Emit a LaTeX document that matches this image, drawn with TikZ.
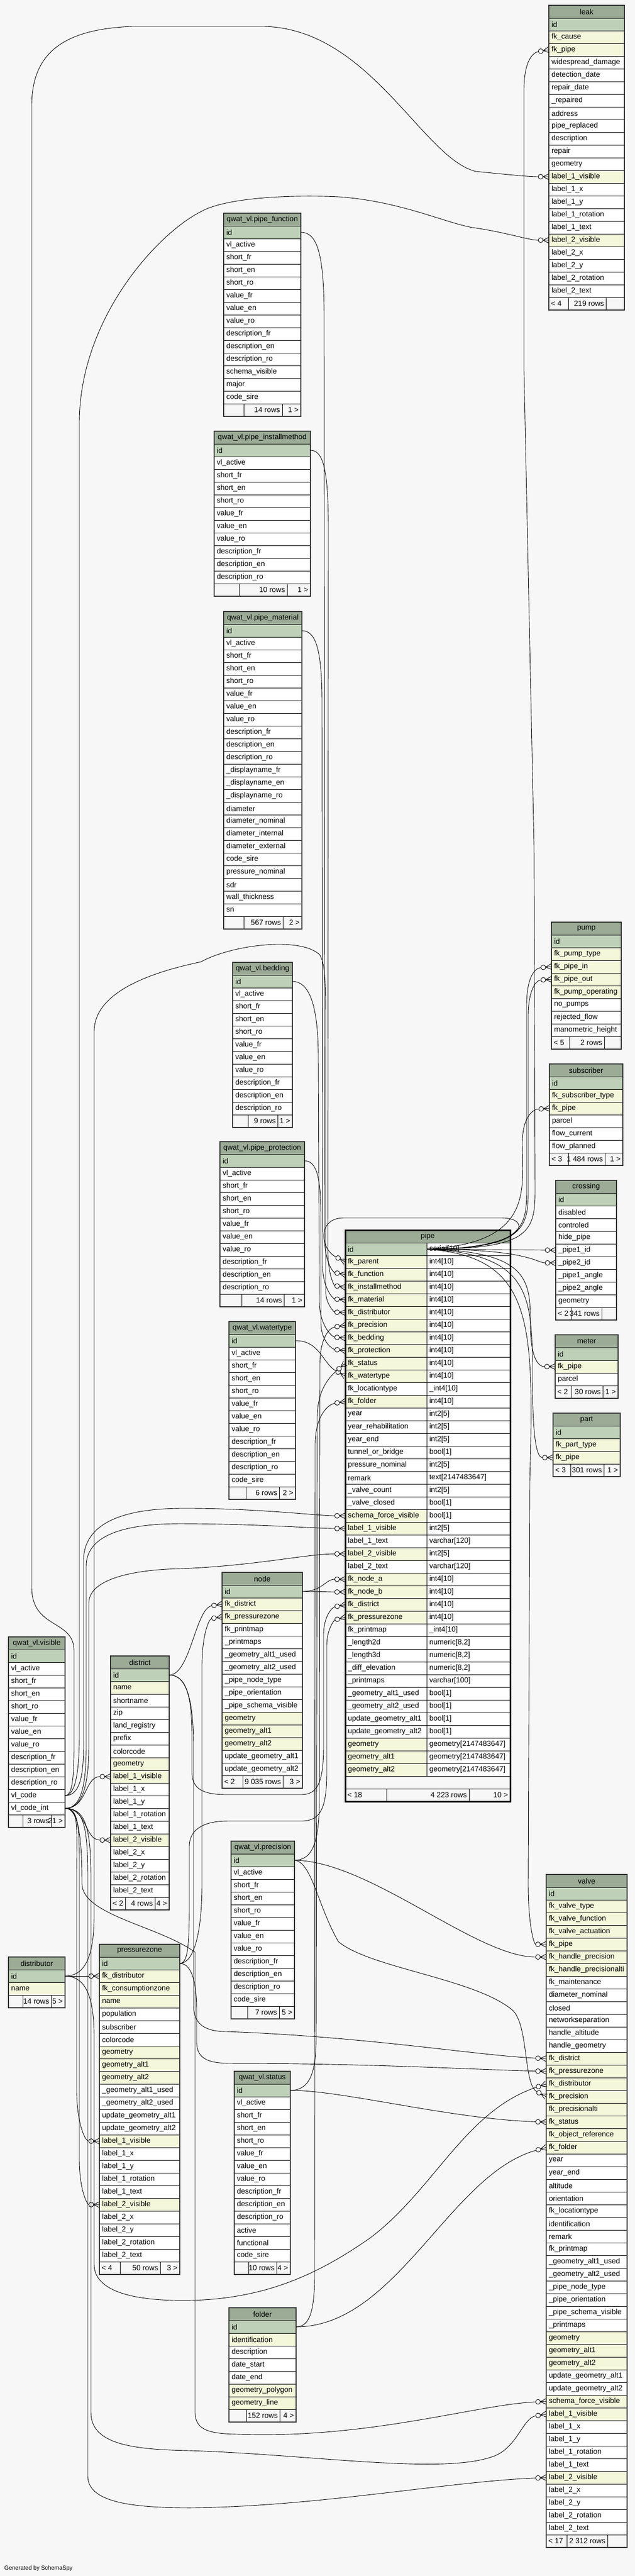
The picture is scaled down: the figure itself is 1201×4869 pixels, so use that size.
\documentclass[tikz,border=0pt]{standalone}
\usepackage{fontspec}
\setmainfont{Liberation Sans}
\usetikzlibrary{arrows.meta}
\definecolor{headc}{HTML}{9BAB96}
\definecolor{pk}{HTML}{BED1B8}
\definecolor{ix}{HTML}{F4F7DA}
\colorlet{cl}{white}
\definecolor{footc}{HTML}{F7F7F7}
\definecolor{bgc}{HTML}{F7F7F7}

% zero-or-many end of a relation
\pgfdeclarearrow{
  name = crowodot,
  setup code = {
    \pgfarrowssettipend{0pt}
    \pgfarrowssetlineend{-20pt}
    \pgfarrowssetvisualbackend{-20pt}
    \pgfarrowssetbackend{-20pt}
    \pgfarrowshullpoint{0pt}{6pt}
    \pgfarrowshullpoint{0pt}{-6pt}
    \pgfarrowshullpoint{-20pt}{5pt}
    \pgfarrowshullpoint{-20pt}{-5pt}
  },
  drawing code = {
    \pgfsetdash{}{0pt}
    \pgfpathmoveto{\pgfqpoint{-11pt}{0pt}}\pgfpathlineto{\pgfqpoint{0pt}{5.5pt}}
    \pgfpathmoveto{\pgfqpoint{-11pt}{0pt}}\pgfpathlineto{\pgfqpoint{0pt}{0pt}}
    \pgfpathmoveto{\pgfqpoint{-11pt}{0pt}}\pgfpathlineto{\pgfqpoint{0pt}{-5.5pt}}
    \pgfusepathqstroke
    \pgfpathcircle{\pgfqpoint{-15.5pt}{0pt}}{4.5pt}
    \pgfsetfillcolor{white}
    \pgfusepathqfillstroke
  },
}

\tikzset{
  cell/.style = {draw=black, line width=0.8pt, minimum height=24pt, inner xsep=5pt, inner ysep=0pt,
    outer sep=0pt, anchor=north west, align=left, font=\fontsize{14}{16}\selectfont},
  thead/.style = {cell, fill=headc},
  tfoot/.style = {cell, fill=footc},
  ftext/.style = {inner xsep=4pt, inner ysep=0pt, font=\fontsize{14}{16}\selectfont},
  tborder/.style = {draw=black!80, line width=1.6pt},
  rel/.style = {draw=black, line width=0.9pt, -{crowodot}},
}

% name, title, x, y, width, rows, footer left/middle/right
\newcommand\dbtable[9]{%
  \pgfmathsetmacro\tw{#5-10}%
  \node[thead, minimum width=#5pt] (#1) at (#3,#4) {#2};
  \foreach \k/\c [count=\i] in {#6}{%
    \node[cell, fill=\k, text width=\tw pt] (#1-\c) at (#3,{#4+24*\i}) {\expandafter\detokenize\expandafter{\c}};
    \xdef\dbn{\i}}
  \pgfmathsetmacro\fy{#4+24*(\dbn+1)}%
  \pgfmathsetmacro\fa{0.26*#5}\pgfmathsetmacro\fc{0.24*#5}\pgfmathsetmacro\fb{#5-\fa-\fc}%
  \node[tfoot, minimum width=\fa pt] (#1-fl) at (#3,\fy) {};
  \node[tfoot, minimum width=\fb pt] (#1-fm) at (#1-fl.north east) {};
  \node[tfoot, minimum width=\fc pt] (#1-fr) at (#1-fm.north east) {};
  \node[ftext, anchor=west] (#1-flt) at (#1-fl.west) {#7};
  \node[ftext, anchor=east] (#1-fmt) at (#1-fm.east) {#8};
  \node[ftext, anchor=east] (#1-frt) at (#1-fr.east) {#9};
  \draw[tborder] (#1.north west) rectangle (#1-fr.south east);
}

\begin{document}
\begin{tikzpicture}[x=1pt, y=-1pt]
\fill[bgc] (0,0) rectangle (1201,4869);
\useasboundingbox (0,0) rectangle (1201,4869);

\dbtable{leak}{leak}{1038}{10}{143}{pk/id, ix/fk_cause, ix/fk_pipe, cl/widespread_damage, cl/detection_date, cl/repair_date, cl/_repaired, cl/address, cl/pipe_replaced, cl/description, cl/repair, cl/geometry, ix/label_1_visible, cl/label_1_x, cl/label_1_y, cl/label_1_rotation, cl/label_1_text, ix/label_2_visible, cl/label_2_x, cl/label_2_y, cl/label_2_rotation, cl/label_2_text}{< 4}{219 rows}{}
\dbtable{pfunction}{qwat\_vl.pipe\_function}{423}{403}{146}{pk/id, cl/vl_active, cl/short_fr, cl/short_en, cl/short_ro, cl/value_fr, cl/value_en, cl/value_ro, cl/description_fr, cl/description_en, cl/description_ro, cl/schema_visible, cl/major, cl/code_sire}{}{14 rows}{1 >}
\dbtable{pinstall}{qwat\_vl.pipe\_installmethod}{405}{815}{182}{pk/id, cl/vl_active, cl/short_fr, cl/short_en, cl/short_ro, cl/value_fr, cl/value_en, cl/value_ro, cl/description_fr, cl/description_en, cl/description_ro}{}{10 rows}{1 >}
\dbtable{pmaterial}{qwat\_vl.pipe\_material}{423}{1156}{148}{pk/id, cl/vl_active, cl/short_fr, cl/short_en, cl/short_ro, cl/value_fr, cl/value_en, cl/value_ro, cl/description_fr, cl/description_en, cl/description_ro, cl/_displayname_fr, cl/_displayname_en, cl/_displayname_ro, cl/diameter, cl/diameter_nominal, cl/diameter_internal, cl/diameter_external, cl/code_sire, cl/pressure_nominal, cl/sdr, cl/wall_thickness, cl/sn}{}{567 rows}{2 >}
\dbtable{bedding}{qwat\_vl.bedding}{440}{1819}{113}{pk/id, cl/vl_active, cl/short_fr, cl/short_en, cl/short_ro, cl/value_fr, cl/value_en, cl/value_ro, cl/description_fr, cl/description_en, cl/description_ro}{}{9 rows}{1 >}
\dbtable{protection}{qwat\_vl.pipe\_protection}{416}{2158}{160}{pk/id, cl/vl_active, cl/short_fr, cl/short_en, cl/short_ro, cl/value_fr, cl/value_en, cl/value_ro, cl/description_fr, cl/description_en, cl/description_ro}{}{14 rows}{1 >}
\dbtable{watertype}{qwat\_vl.watertype}{433}{2498}{126}{pk/id, cl/vl_active, cl/short_fr, cl/short_en, cl/short_ro, cl/value_fr, cl/value_en, cl/value_ro, cl/description_fr, cl/description_en, cl/description_ro, cl/code_sire}{}{6 rows}{2 >}
\dbtable{pump}{pump}{1043}{1743}{132}{pk/id, ix/fk_pump_type, ix/fk_pipe_in, ix/fk_pipe_out, ix/fk_pump_operating, cl/no_pumps, cl/rejected_flow, cl/manometric_height}{< 5}{2 rows}{}
\dbtable{subscriber}{subscriber}{1039}{2011}{139}{pk/id, ix/fk_subscriber_type, ix/fk_pipe, cl/parcel, cl/flow_current, cl/flow_planned}{< 3}{1 484 rows}{1 >}
\dbtable{crossing}{crossing}{1051}{2231}{115}{pk/id, cl/disabled, cl/controled, cl/hide_pipe, cl/_pipe1_id, cl/_pipe2_id, cl/_pipe1_angle, cl/_pipe2_angle, cl/geometry}{< 2}{341 rows}{}
\dbtable{meter}{meter}{1050}{2523}{119}{pk/id, ix/fk_pipe, cl/parcel}{< 2}{30 rows}{1 >}
\dbtable{part}{part}{1046}{2671}{127}{pk/id, ix/fk_part_type, ix/fk_pipe}{< 3}{301 rows}{1 >}
\dbtable{nodet}{node}{420}{2972}{152}{pk/id, ix/fk_district, ix/fk_pressurezone, cl/fk_printmap, cl/_printmaps, cl/_geometry_alt1_used, cl/_geometry_alt2_used, cl/_pipe_node_type, cl/_pipe_orientation, cl/_pipe_schema_visible, ix/geometry, ix/geometry_alt1, ix/geometry_alt2, cl/update_geometry_alt1, cl/update_geometry_alt2}{< 2}{9 035 rows}{3 >}
\dbtable{visible}{qwat\_vl.visible}{16}{3094}{107}{pk/id, cl/vl_active, cl/short_fr, cl/short_en, cl/short_ro, cl/value_fr, cl/value_en, cl/value_ro, cl/description_fr, cl/description_en, cl/description_ro, cl/vl_code, cl/vl_code_int}{}{3 rows}{21 >}
\dbtable{district}{district}{209}{3130}{111}{pk/id, ix/name, cl/shortname, cl/zip, cl/land_registry, cl/prefix, cl/colorcode, ix/geometry, ix/label_1_visible, cl/label_1_x, cl/label_1_y, cl/label_1_rotation, cl/label_1_text, ix/label_2_visible, cl/label_2_x, cl/label_2_y, cl/label_2_rotation, cl/label_2_text}{< 2}{4 rows}{4 >}
\dbtable{distributor}{distributor}{16}{3699}{107}{pk/id, ix/name}{}{14 rows}{5 >}
\dbtable{pzone}{pressurezone}{188}{3675}{152}{pk/id, ix/fk_distributor, ix/fk_consumptionzone, ix/name, cl/population, cl/subscriber, cl/colorcode, ix/geometry, ix/geometry_alt1, ix/geometry_alt2, cl/_geometry_alt1_used, cl/_geometry_alt2_used, cl/update_geometry_alt1, cl/update_geometry_alt2, ix/label_1_visible, cl/label_1_x, cl/label_1_y, cl/label_1_rotation, cl/label_1_text, ix/label_2_visible, cl/label_2_x, cl/label_2_y, cl/label_2_rotation, cl/label_2_text}{< 4}{50 rows}{3 >}
\dbtable{precision}{qwat\_vl.precision}{437}{3480}{120}{pk/id, cl/vl_active, cl/short_fr, cl/short_en, cl/short_ro, cl/value_fr, cl/value_en, cl/value_ro, cl/description_fr, cl/description_en, cl/description_ro, cl/code_sire}{}{7 rows}{5 >}
\dbtable{status}{qwat\_vl.status}{443}{3915}{106}{pk/id, cl/vl_active, cl/short_fr, cl/short_en, cl/short_ro, cl/value_fr, cl/value_en, cl/value_ro, cl/description_fr, cl/description_en, cl/description_ro, cl/active, cl/functional, cl/code_sire}{}{10 rows}{4 >}
\dbtable{folder}{folder}{433}{4362}{127}{pk/id, ix/identification, cl/description, cl/date_start, cl/date_end, ix/geometry_polygon, ix/geometry_line}{}{152 rows}{4 >}
\dbtable{valve}{valve}{1033}{3543}{153}{pk/id, ix/fk_valve_type, ix/fk_valve_function, ix/fk_valve_actuation, ix/fk_pipe, ix/fk_handle_precision, ix/fk_handle_precisionalti, cl/fk_maintenance, cl/diameter_nominal, cl/closed, cl/networkseparation, cl/handle_altitude, cl/handle_geometry, ix/fk_district, ix/fk_pressurezone, ix/fk_distributor, ix/fk_precision, ix/fk_precisionalti, ix/fk_status, ix/fk_object_reference, ix/fk_folder, cl/year, cl/year_end, cl/altitude, cl/orientation, cl/fk_locationtype, cl/identification, cl/remark, cl/fk_printmap, cl/_geometry_alt1_used, cl/_geometry_alt2_used, cl/_pipe_node_type, cl/_pipe_orientation, cl/_pipe_schema_visible, cl/_printmaps, ix/geometry, ix/geometry_alt1, ix/geometry_alt2, cl/update_geometry_alt1, cl/update_geometry_alt2, ix/schema_force_visible, ix/label_1_visible, cl/label_1_x, cl/label_1_y, cl/label_1_rotation, cl/label_1_text, ix/label_2_visible, cl/label_2_x, cl/label_2_y, cl/label_2_rotation, cl/label_2_text}{< 17}{2 312 rows}{}

% pipe, two columns
\node[thead, minimum width=312pt] (pipe) at (653,2325) {pipe};
\foreach \k/\c/\ty [count=\i] in {pk/id/serial[10], ix/fk_parent/int4[10], ix/fk_function/int4[10], ix/fk_installmethod/int4[10], ix/fk_material/int4[10], ix/fk_distributor/int4[10], ix/fk_precision/int4[10], ix/fk_bedding/int4[10], ix/fk_protection/int4[10], ix/fk_status/int4[10], ix/fk_watertype/int4[10], cl/fk_locationtype/_int4[10], ix/fk_folder/int4[10], cl/year/int2[5], cl/year_rehabilitation/int2[5], cl/year_end/int2[5], cl/tunnel_or_bridge/bool[1], cl/pressure_nominal/int2[5], cl/remark/text[2147483647], cl/_valve_count/int2[5], cl/_valve_closed/bool[1], ix/schema_force_visible/bool[1], ix/label_1_visible/int2[5], cl/label_1_text/varchar[120], ix/label_2_visible/int2[5], cl/label_2_text/varchar[120], ix/fk_node_a/int4[10], ix/fk_node_b/int4[10], ix/fk_district/int4[10], ix/fk_pressurezone/int4[10], cl/fk_printmap/_int4[10], cl/_length2d/{numeric[8,2]}, cl/_length3d/{numeric[8,2]}, cl/_diff_elevation/{numeric[8,2]}, cl/_printmaps/varchar[100], cl/_geometry_alt1_used/bool[1], cl/_geometry_alt2_used/bool[1], cl/update_geometry_alt1/bool[1], cl/update_geometry_alt2/bool[1], ix/geometry/geometry[2147483647], ix/geometry_alt1/geometry[2147483647], ix/geometry_alt2/geometry[2147483647]}{%
  \node[cell, fill=\k, text width=144pt] (pipe-\c) at (653,{2325+24*\i}) {\expandafter\detokenize\expandafter{\c}};
  \node[cell, fill=white, text width=148pt] (pipe-\c-t) at (pipe-\c.north east) {\expandafter\detokenize\expandafter{\ty}};
}
\node[tfoot, minimum width=78pt] (pipe-fl) at (653,3381) {};
\node[tfoot, minimum width=156pt] (pipe-fm) at (pipe-fl.north east) {};
\node[tfoot, minimum width=78pt] (pipe-fr) at (pipe-fm.north east) {};
\node[ftext, anchor=west] (pipe-flt) at (pipe-fl.west) {< 18};
\node[ftext, anchor=east] (pipe-fmt) at (pipe-fm.east) {4 223 rows};
\node[ftext, anchor=east] (pipe-frt) at (pipe-fr.east) {10 >};
\draw[line width=3pt] (pipe.north west) rectangle (pipe-fr.south east);

% pipe -> tables on the right
\draw[rel] (pipe-id.east) .. controls (1000,2361) and (1012,2330) .. (1012,2250) -- (1010,1600) -- (991,700) -- (991,170) .. controls (991,120) and (1005,100) .. (leak-fk_pipe.west);
\draw[rel] (pipe-id.east) .. controls (990,2361) and (996,2320) .. (996,2250) -- (996,1900) .. controls (996,1850) and (1010,1830) .. (pump-fk_pipe_in.west);
\draw[rel] (pipe-id.east) .. controls (992,2361) and (999,2320) .. (999,2250) -- (999,1920) .. controls (999,1875) and (1012,1853) .. (pump-fk_pipe_out.west);
\draw[rel] (pipe-id.east) .. controls (1010,2350) and (988,2250) .. (988,2160) .. controls (988,2115) and (1005,2097) .. (subscriber-fk_pipe.west);
\draw[rel] (pipe-id.east) -- (crossing-_pipe1_id.west);
\draw[rel] (pipe-id.east) .. controls (1000,2361) and (1015,2387) .. (crossing-_pipe2_id.west);
\draw[rel] (pipe-id.east) .. controls (1000,2365) and (1003,2420) .. (1003,2500) .. controls (1003,2560) and (1015,2583) .. (meter-fk_pipe.west);
\draw[rel] (pipe-id.east) .. controls (1005,2370) and (1007,2450) .. (1007,2600) .. controls (1007,2720) and (1015,2755) .. (part-fk_pipe.west);
\draw[rel] (pipe-id.east) .. controls (1010,2375) and (1010,2500) .. (1002,2800) -- (999,3560) .. controls (999,3640) and (1010,3675) .. (valve-fk_pipe.west);
\draw[rel] (pipe-id.east) .. controls (995,2361) and (1010,2303) .. (950,2302) -- (650,2302) .. controls (600,2302) and (605,2360) .. (pipe-fk_parent.west);

% value lists -> pipe
\draw[rel] (pfunction-id.east) .. controls (600,439) and (613,480) .. (613,600) -- (614,2340) .. controls (614,2385) and (630,2405) .. (pipe-fk_function.west);
\draw[rel] (pinstall-id.east) .. controls (612,851) and (621,890) .. (621,1000) -- (620,2360) .. controls (620,2410) and (632,2430) .. (pipe-fk_installmethod.west);
\draw[rel] (pmaterial-id.east) .. controls (598,1192) and (609,1230) .. (609,1330) -- (610,2390) .. controls (610,2435) and (630,2455) .. (pipe-fk_material.west);
\draw[rel] (bedding-id.east) .. controls (585,1855) and (602,1900) .. (602,2000) -- (604,2460) .. controls (604,2505) and (628,2527) .. (pipe-fk_bedding.west);
\draw[rel] (protection-id.east) .. controls (600,2194) and (607,2230) .. (607,2300) -- (607,2500) .. controls (607,2535) and (628,2550) .. (pipe-fk_protection.west);
\draw[rel] (watertype-id.east) .. controls (605,2534) and (610,2577) .. (pipe-fk_watertype.west);
\draw[rel] (distributor-id.east) .. controls (160,3735) and (178,3700) .. (178,3620) -- (178,1950) .. controls (178,1870) and (300,1835) .. (380,1818) .. controls (440,1785) and (570,1770) .. (605,1805) .. controls (616,1825) and (616,1860) .. (616,1950) -- (616,2440) .. controls (616,2465) and (632,2480) .. (pipe-fk_distributor.west);
\draw[rel] (precision-id.east) .. controls (592,3516) and (604,3480) .. (604,3400) -- (605,2580) .. controls (605,2530) and (622,2510) .. (pipe-fk_precision.west);
\draw[rel] (status-id.east) .. controls (585,3951) and (598,3920) .. (598,3850) -- (600,2680) .. controls (600,2630) and (620,2605) .. (pipe-fk_status.west);
\draw[rel] (folder-id.east) .. controls (585,4398) and (595,4370) .. (595,4300) -- (596,2730) .. controls (596,2680) and (618,2655) .. (pipe-fk_folder.west);
\draw[rel] (visible-vl_code.east) .. controls (150,3394) and (158,3360) .. (158,3300) -- (158,2950) .. controls (158,2880) and (230,2852) .. (340,2851) .. controls (480,2850) and (600,2865) .. (pipe-schema_force_visible.west);
\draw[rel] (visible-vl_code_int.east) .. controls (152,3418) and (163,3380) .. (163,3300) -- (163,2960) .. controls (163,2900) and (240,2880) .. (340,2880) .. controls (480,2880) and (600,2889) .. (pipe-label_1_visible.west);
\draw[rel] (visible-vl_code_int.east) .. controls (154,3418) and (168,3380) .. (168,3300) -- (168,3030) .. controls (168,2985) and (250,2967) .. (340,2965) .. controls (480,2960) and (580,2937) .. (pipe-label_2_visible.west);
\draw[rel] (nodet-id.east) .. controls (610,3008) and (615,2985) .. (pipe-fk_node_a.west);
\draw[rel] (nodet-id.east) .. controls (610,3008) and (620,3009) .. (pipe-fk_node_b.west);
\draw[rel] (district-id.east) .. controls (350,3166) and (363,3200) .. (363,3280) -- (363,3350) .. controls (363,3385) and (390,3392) .. (430,3392) -- (570,3392) .. controls (600,3392) and (612,3370) .. (612,3300) -- (612,3090) .. controls (612,3055) and (628,3038) .. (pipe-fk_district.west);
\draw[rel] (pzone-id.east) .. controls (355,3711) and (358,3680) .. (358,3600) -- (358,3490) .. controls (358,3455) and (390,3442) .. (430,3442) -- (570,3442) .. controls (605,3442) and (618,3420) .. (618,3350) -- (618,3110) .. controls (618,3080) and (632,3062) .. (pipe-fk_pressurezone.west);

% node, district, pressurezone
\draw[rel] (district-id.east) .. controls (360,3166) and (370,3040) .. (nodet-fk_district.west);
\draw[rel] (pzone-id.east) .. controls (365,3711) and (382,3660) .. (382,3560) -- (382,3150) .. controls (382,3090) and (395,3060) .. (nodet-fk_pressurezone.west);
\draw[rel] (visible-vl_code_int.east) .. controls (165,3418) and (160,3358) .. (district-label_1_visible.west);
\draw[rel] (visible-vl_code_int.east) .. controls (165,3418) and (160,3478) .. (district-label_2_visible.west);
\draw[rel] (distributor-id.east) -- (pzone-fk_distributor.west);
\draw[rel] (visible-vl_code_int.east) .. controls (150,3418) and (145,3450) .. (145,3550) -- (145,3950) .. controls (145,4010) and (160,4047) .. (pzone-label_1_visible.west);
\draw[rel] (visible-vl_code_int.east) .. controls (152,3418) and (150,3460) .. (150,3560) -- (150,4080) .. controls (150,4140) and (165,4167) .. (pzone-label_2_visible.west);

% valve
\draw[rel] (precision-id.east) .. controls (700,3518) and (900,3699) .. (valve-fk_handle_precision.west);
\draw[rel] (precision-id.east) .. controls (590,3520) and (600,3600) .. (640,3670) .. controls (700,3720) and (900,3740) .. (970,3800) .. controls (1000,3830) and (990,3940) .. (valve-fk_precision.west);
\draw[rel] (district-id.east) .. controls (352,3166) and (366,3210) .. (366,3300) -- (366,3790) .. controls (366,3828) and (390,3840) .. (430,3840) .. controls (700,3850) and (900,3885) .. (valve-fk_district.west);
\draw[rel] (pzone-id.east) .. controls (360,3711) and (372,3740) .. (372,3800) -- (372,3860) .. controls (372,3895) and (400,3900) .. (440,3900) .. controls (700,3900) and (900,3912) .. (valve-fk_pressurezone.west);
\draw[rel] (distributor-id.east) .. controls (160,3735) and (178,3770) .. (178,3850) -- (178,4280) .. controls (178,4330) and (250,4350) .. (360,4348) .. controls (500,4345) and (600,4300) .. (700,4230) .. controls (820,4140) and (880,3990) .. (valve-fk_distributor.west);
\draw[rel] (status-id.east) .. controls (650,3951) and (850,4005) .. (valve-fk_status.west);
\draw[rel] (folder-id.east) .. controls (750,4398) and (850,4110) .. (valve-fk_folder.west);
\draw[rel] (visible-vl_code_int.east) .. controls (150,3418) and (155,3480) .. (155,3560) .. controls (155,3620) and (300,3640) .. (369,3690) -- (369,4560) .. controls (369,4595) and (400,4600) .. (450,4601) .. controls (700,4610) and (900,4545) .. (valve-schema_force_visible.west);
\draw[rel] (visible-vl_code_int.east) .. controls (160,3418) and (172,3450) .. (172,3550) -- (172,4560) .. controls (172,4620) and (250,4630) .. (360,4632) .. controls (600,4640) and (850,4680) .. (940,4640) .. controls (980,4620) and (990,4570) .. (valve-label_1_visible.west);
\draw[rel] (visible-vl_code_int.east) .. controls (158,3418) and (166,3450) .. (166,3550) -- (166,4680) .. controls (166,4730) and (250,4740) .. (360,4740) .. controls (600,4738) and (850,4690) .. (valve-label_2_visible.west);

% leak labels
\draw[rel] (visible-vl_code.east) .. controls (135,3394) and (140,3370) .. (140,3300) -- (140,3120) .. controls (140,3060) and (60,3080) .. (60,3000) -- (60,200) .. controls (60,100) and (120,55) .. (250,50) -- (500,50) .. controls (700,55) and (800,300) .. (900,324) .. controls (960,330) and (1000,334) .. (leak-label_1_visible.west);
\draw[rel] (visible-vl_code.east) .. controls (140,3394) and (150,3360) .. (150,3280) -- (150,800) .. controls (150,600) and (300,440) .. (380,400) .. controls (430,372) and (560,368) .. (640,372) .. controls (760,380) and (850,425) .. (900,431) .. controls (960,440) and (1000,454) .. (leak-label_2_visible.west);

\node[anchor=south west, inner sep=0pt, font=\fontsize{11}{13}\selectfont] (gen) at (8,4860) {Generated by SchemaSpy};
\end{tikzpicture}
\end{document}
